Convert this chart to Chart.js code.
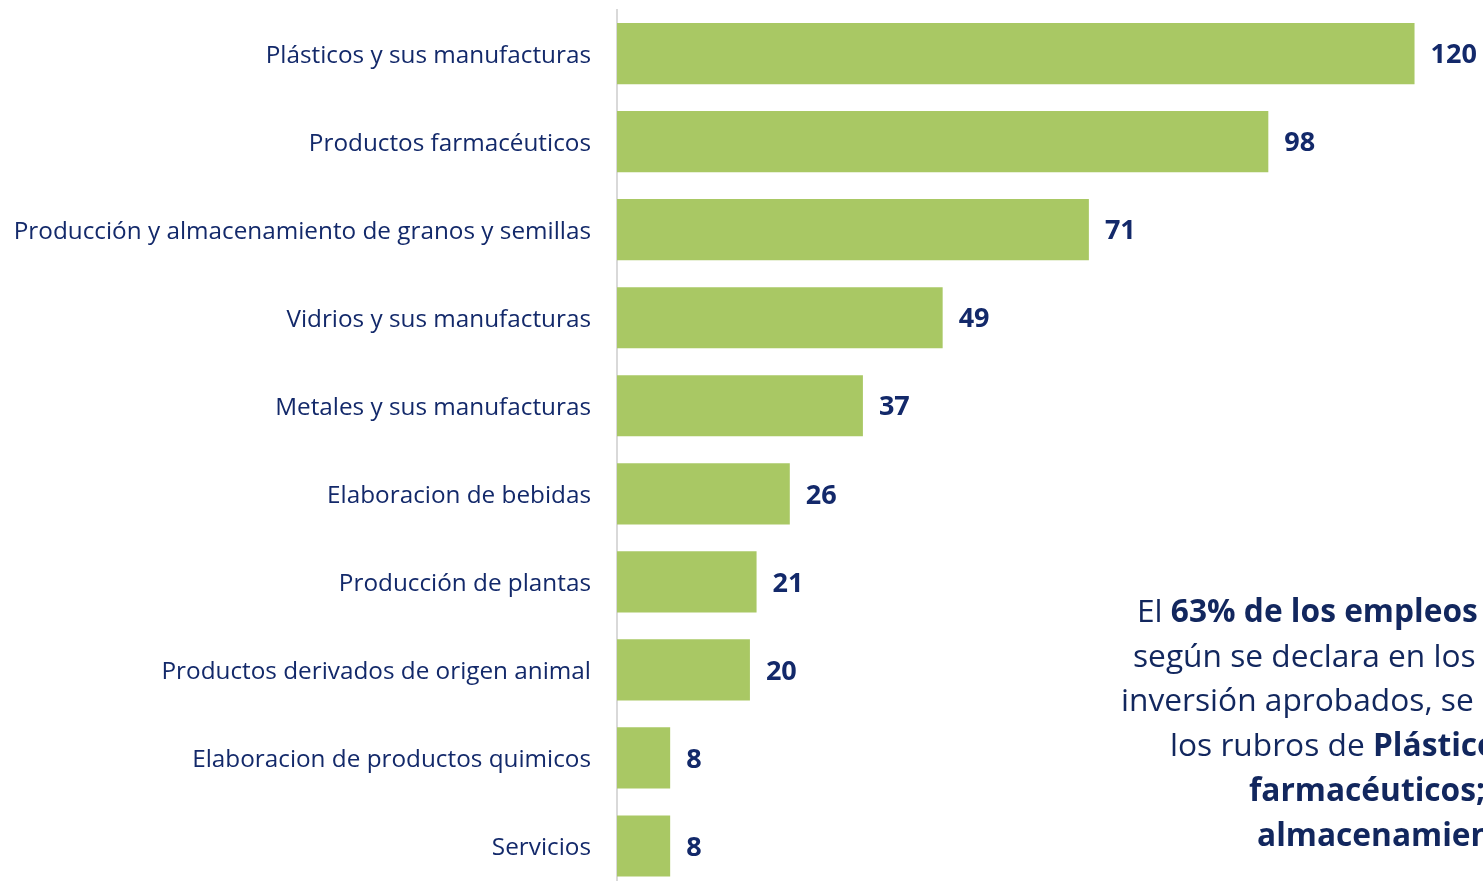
<!DOCTYPE html>
<html>
<head>
<meta charset="utf-8">
<script src="https://cdn.jsdelivr.net/npm/chart.js@4.4.1/dist/chart.umd.min.js"></script>
<style>
  html, body { margin: 0; padding: 0; background: #fff; overflow: hidden; }
  #wrap { position: relative; width: 1483px; height: 890px; }
  #note {
    position: absolute; top: 588px; left: 0; width: 1483px;
    font-family: "Open Sans", sans-serif; font-size: 31.7px; color: #12275e;
    line-height: 44.7px; white-space: nowrap;
  }
  #note div { position: absolute; }
  #note b { font-weight: 700; }
</style>
</head>
<body>
<div id="wrap">
  <canvas id="chart" width="1483" height="890"></canvas>
  <div id="note">
    <div style="left:1137px; top:0px">El <b>63% de los empleos</b></div>
    <div style="left:1133px; top:44.7px">según se declara en los</div>
    <div style="left:1121px; top:89.4px">inversión aprobados, se</div>
    <div style="left:1170px; top:134.1px">los rubros de <b>Plásticos</b></div>
    <div style="left:1249px; top:178.8px"><b>farmacéuticos;</b></div>
    <div style="left:1257px; top:223.5px"><b>almacenamiento</b></div>
  </div>
</div>
<script>
const categories = [
  "Plásticos y sus manufacturas",
  "Productos farmacéuticos",
  "Producción y almacenamiento de granos y semillas",
  "Vidrios y sus manufacturas",
  "Metales y sus manufacturas",
  "Elaboracion de bebidas",
  "Producción de plantas",
  "Productos derivados de origen animal",
  "Elaboracion de productos quimicos",
  "Servicios"
];
const values = [120, 98, 71, 49, 37, 26, 21, 20, 8, 8];

const navy = "#13296a";

// value labels at the end of each bar
const barLabels = {
  id: "barLabels",
  afterDatasetsDraw(chart) {
    const ctx = chart.ctx;
    const meta = chart.getDatasetMeta(0);
    ctx.save();
    ctx.font = "bold 27px 'Open Sans'";
    ctx.fillStyle = navy;
    ctx.textBaseline = "middle";
    ctx.textAlign = "left";
    meta.data.forEach((bar, i) => {
      ctx.fillText(values[i], bar.x + 16, bar.y + 2);
    });
    ctx.restore();
  }
};

new Chart(document.getElementById("chart"), {
  type: "bar",
  data: {
    labels: categories,
    datasets: [{
      data: values,
      backgroundColor: "#a9c864",
      categoryPercentage: 1,
      barPercentage: 0.695
    }]
  },
  options: {
    indexAxis: "y",
    responsive: false,
    animation: false,
    layout: { padding: { top: 9.6, right: 2, bottom: 0, left: 0 } },
    plugins: { legend: { display: false }, tooltip: { enabled: false } },
    scales: {
      x: {
        min: 0, max: 130,
        display: false
      },
      y: {
        afterFit(s) { s.width = 617; s.paddingTop = 0; s.paddingBottom = 0; },
        grid: { display: false, drawTicks: true, tickLength: 26 },
        border: { display: true, color: "#d9d9d9", width: 2 },
        ticks: {
          color: navy,
          padding: 0,
          labelOffset: 2,
          font: { family: "Open Sans", size: 24.3 }
        }
      }
    }
  },
  plugins: [barLabels]
});
</script>
</body>
</html>
